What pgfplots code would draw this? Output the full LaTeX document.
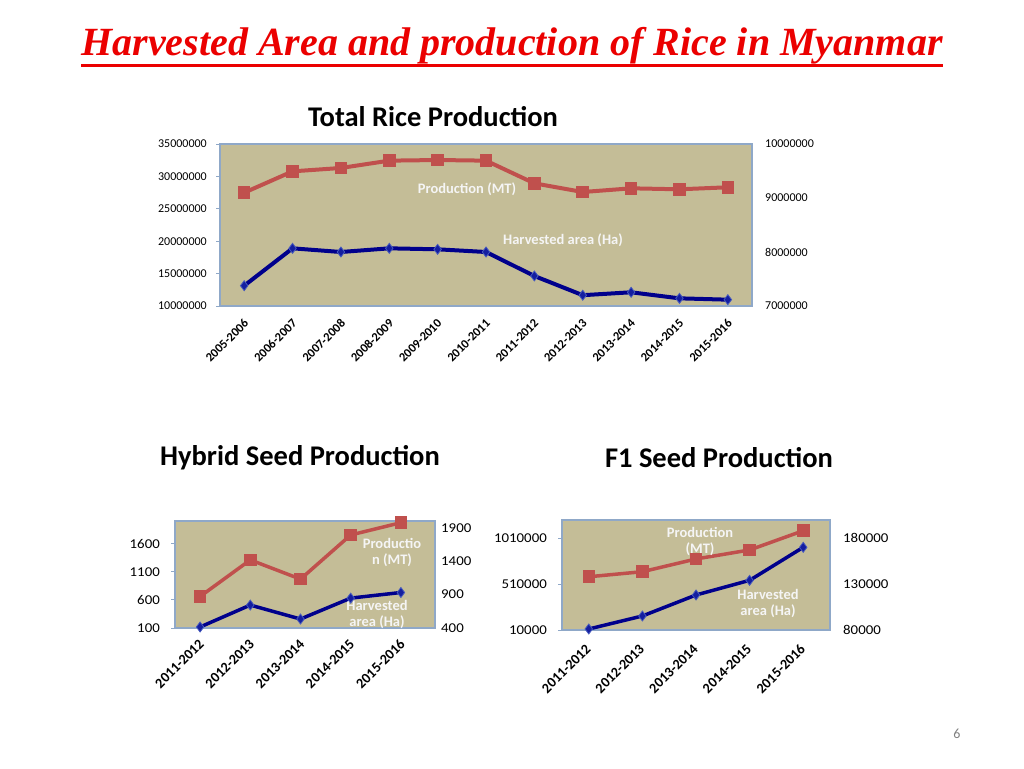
\documentclass[border=0pt]{standalone}
\usepackage{fontspec}
\setmainfont{Carlito}
\newfontfamily\titlefont{Liberation Serif}
\newfontfamily\stretchfont[FakeStretch=1.1]{Carlito}
\usepackage{pgfplots}
\pgfplotsset{compat=1.18}
\definecolor{titlered}{RGB}{235,0,0}
\definecolor{redc}{RGB}{192,80,77}
\definecolor{blueline}{RGB}{0,0,140}
\definecolor{bluem}{RGB}{20,30,160}
\definecolor{bluee}{RGB}{70,90,190}
\definecolor{tanbg}{RGB}{196,189,151}
\definecolor{bordercol}{RGB}{143,168,200}
\definecolor{labw}{RGB}{245,245,245}
\pgfplotsset{
  slide/.style={scale only axis, anchor=north west, clip=false,
    axis line style={bordercol, line width=1.5pt},
    xtick style={draw=none}, ytick style={draw=none},
    scaled y ticks=false,
    /pgf/number format/fixed, /pgf/number format/1000 sep={},
    /pgf/number format/assume math mode=true},
  lefttick/.style={ytick pos=left, tick align=inside, major tick length=4pt,
    ytick style={draw=bordercol, line width=1pt, xshift=-4pt}},
  redser/.style={color=redc, line width=#1, mark=square*, mark size=5.8pt,
    mark options={fill=redc, draw=redc, line width=0pt, solid}},
  blueser/.style={color=blueline, line width=#1, mark=diamond*, mark size=5pt,
    mark options={fill=bluem, draw=bluee, line width=0.8pt, solid}},
}
\begin{document}
\begin{tikzpicture}
\useasboundingbox (0,0) rectangle (1024pt,-768pt);
\fill[white] (0,0) rectangle (1024pt,-768pt);
% main title
\node[text=titlered, font=\titlefont\bfseries\itshape\fontsize{40}{44}\selectfont, inner sep=0pt] (T) at (512pt,-46pt) {Harvested Area and production of Rice in Myanmar};
\draw[titlered, line width=3pt] (T.west |- 0,-65pt) -- (T.east |- 0,-65pt);
% chart titles
\node[font=\bfseries\fontsize{28.5}{32}\selectfont] at (433pt,-117pt) {Total Rice Production};
\node[font=\bfseries\fontsize{28.5}{32}\selectfont] at (300pt,-458pt) {Hybrid Seed Production};
\node[font=\bfseries\fontsize{28.5}{32}\selectfont] at (719pt,-458pt) {F1 Seed Production};
\node[text=gray, font=\fontsize{14}{16}\selectfont] at (957pt,-734pt) {6};

% ================= Chart 1 =================
\begin{axis}[slide, lefttick, at={(220pt,-144pt)}, width=532pt, height=162pt,
  xmin=-0.5, xmax=10.5, ymin=10000000, ymax=35000000,
  ytick={10000000,15000000,20000000,25000000,30000000,35000000},
  yticklabel style={font=\fontsize{12}{14}\selectfont, inner sep=0pt, xshift=-13pt},
  axis background/.style={fill=tanbg},
  xtick={0,...,10},
  xticklabels={2005-2006,2006-2007,2007-2008,2008-2009,2009-2010,2010-2011,2011-2012,2012-2013,2013-2014,2014-2015,2015-2016},
  xticklabel style={font=\bfseries\fontsize{12.5}{14}\selectfont, inner sep=0pt, yshift=-12pt, xshift=-1pt, rotate=45, anchor=north east},
]
\addplot[redser=4pt] coordinates {(0,27490000) (1,30780000) (2,31300000) (3,32430000) (4,32530000) (5,32430000) (6,28930000) (7,27590000) (8,28160000) (9,28010000) (10,28320000)};
\end{axis}
\node[text=labw, font=\bfseries\fontsize{14.5}{16}\selectfont] at (467pt,-189pt) {Production (MT)};
\node[text=labw, font=\bfseries\fontsize{14.5}{16}\selectfont] at (563pt,-240pt) {Harvested area (Ha)};
\begin{axis}[slide, at={(220pt,-144pt)}, width=532pt, height=162pt,
  xmin=-0.5, xmax=10.5, ymin=7000000, ymax=10000000,
  ytick={7000000,8000000,9000000,10000000},
  axis y line*=right, axis x line=none,
  yticklabel style={font=\fontsize{12}{14}\selectfont, inner sep=0pt, anchor=west, xshift=13pt},
]
\addplot[blueser=4pt] coordinates {(0,7376000) (1,8068000) (2,8000000) (3,8068000) (4,8050000) (5,8000000) (6,7556000) (7,7200000) (8,7254000) (9,7142000) (10,7117000)};
\end{axis}

% ================= Chart 2 =================
\begin{axis}[slide, lefttick, at={(175pt,-521pt)}, width=260pt, height=107pt,
  xmin=-0.5, xmax=4.68, ymin=100, ymax=2000,
  ytick={100,600,1100,1600},
  yticklabel style={font=\stretchfont\fontsize{13.5}{15}\selectfont, inner sep=0pt, xshift=-15pt},
  axis background/.style={fill=tanbg},
  xtick={0,...,4},
  xticklabels={2011-2012,2012-2013,2013-2014,2014-2015,2015-2016},
  xticklabel style={font=\bfseries\fontsize{14.3}{16}\selectfont, inner sep=0pt, yshift=-10pt, xshift=-2pt, rotate=45, anchor=north east},
]
\addplot[redser=3.5pt] coordinates {(0,660) (1,1309) (2,968) (3,1752) (4,1970)};
\end{axis}
\node[text=labw, font=\bfseries\fontsize{14.5}{16}\selectfont, align=center] at (392pt,-552pt) {Productio\\n (MT)};
\node[text=labw, font=\bfseries\fontsize{14.5}{16}\selectfont, align=center] at (377pt,-615pt) {Harvested\\area (Ha)};
\begin{axis}[slide, at={(175pt,-521pt)}, width=260pt, height=107pt,
  xmin=-0.5, xmax=4.68, ymin=400, ymax=2000,
  ytick={400,900,1400,1900},
  axis y line*=right, axis x line=none,
  yticklabel style={font=\stretchfont\fontsize{13.5}{15}\selectfont, inner sep=0pt, anchor=west, xshift=6pt},
]
\addplot[blueser=3.5pt] coordinates {(0,415) (1,743) (2,534) (3,847) (4,931)};
\end{axis}

% ================= Chart 3 =================
\begin{axis}[slide, lefttick, at={(562pt,-520pt)}, width=268pt, height=110pt,
  xmin=-0.5, xmax=4.5, ymin=10000, ymax=1210000,
  ytick={10000,510000,1010000},
  yticklabel style={font=\stretchfont\fontsize{13.5}{15}\selectfont, inner sep=0pt, xshift=-15pt},
  axis background/.style={fill=tanbg},
  xtick={0,...,4},
  xticklabels={2011-2012,2012-2013,2013-2014,2014-2015,2015-2016},
  xticklabel style={font=\bfseries\fontsize{14.3}{16}\selectfont, inner sep=0pt, yshift=-13pt, xshift=-4pt, rotate=45, anchor=north east},
]
\addplot[redser=3.5pt] coordinates {(0,591000) (1,646000) (2,785000) (3,883000) (4,1093000)};
\end{axis}
\node[text=labw, font=\bfseries\fontsize{14.5}{16}\selectfont, align=center] at (700pt,-541pt) {Production\\(MT)};
\node[text=labw, font=\bfseries\fontsize{14.5}{16}\selectfont, align=center] at (768pt,-604pt) {Harvested\\area (Ha)};
\begin{axis}[slide, at={(562pt,-520pt)}, width=268pt, height=110pt,
  xmin=-0.5, xmax=4.5, ymin=80000, ymax=200000,
  ytick={80000,130000,180000},
  axis y line*=right, axis x line=none,
  yticklabel style={font=\stretchfont\fontsize{13.5}{15}\selectfont, inner sep=0pt, anchor=west, xshift=13pt},
]
\addplot[blueser=3.5pt] coordinates {(0,81100) (1,95300) (2,118200) (3,134200) (4,170200)};
\end{axis}
\end{tikzpicture}
\end{document}
